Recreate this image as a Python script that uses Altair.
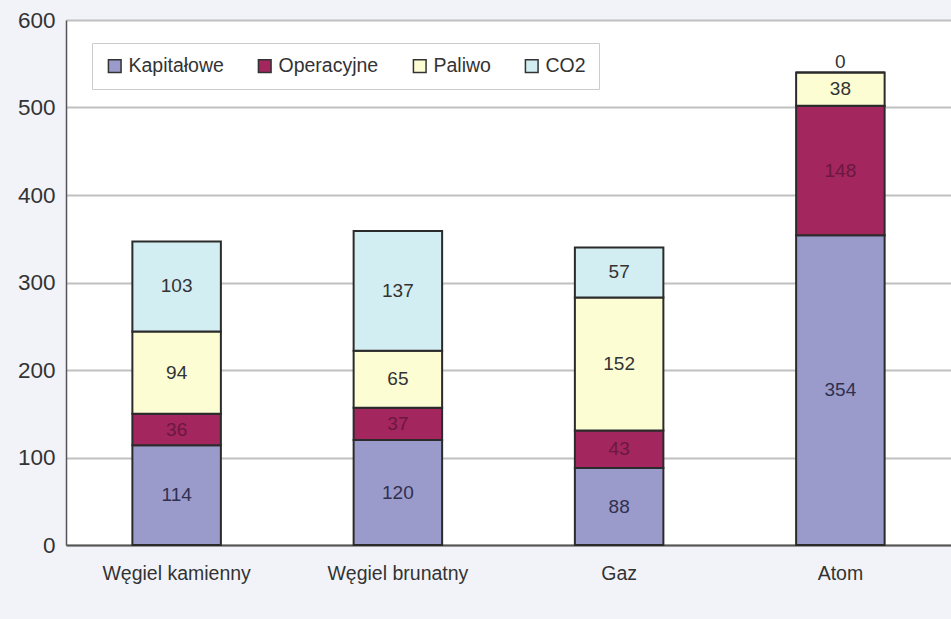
import altair as alt
import pandas as pd

# Cost components per technology (stacked from the bottom up)
categories = ["Węgiel kamienny", "Węgiel brunatny", "Gaz", "Atom"]
series = ["Kapitałowe", "Operacyjne", "Paliwo", "CO2"]
kapitalowe = [114, 120, 88, 354]
operacyjne = [36, 37, 43, 148]
paliwo = [94, 65, 152, 38]
co2 = [103, 137, 57, 0]
y_ticks = [0, 100, 200, 300, 400, 500, 600]

fill_colors = ["#9b9bcb", "#a3265e", "#fdfdd4", "#d3eef2"]
label_colors = ["#2f3050", "#6b1840", "#333333", "#333333"]
FONT = "Liberation Sans"

rows = []
for rank, (name, vals) in enumerate(zip(series, [kapitalowe, operacyjne, paliwo, co2])):
    for cat, v in zip(categories, vals):
        rows.append({"kategoria": cat, "skladnik": name, "rank": rank, "wartosc": v})
df = pd.DataFrame(rows)

base = (
    alt.Chart(df)
    .transform_stack(
        stack="wartosc",
        groupby=["kategoria"],
        sort=[alt.SortField("rank", order="ascending")],
        as_=["y0", "y1"],
    )
    .transform_calculate(mid="(datum.y0 + datum.y1) / 2")
)

x_enc = alt.X(
    "kategoria:N",
    sort=categories,
    scale=alt.Scale(paddingInner=0.6, paddingOuter=0.3),
    axis=alt.Axis(
        title=None,
        labelAngle=0,
        labelFont=FONT,
        labelFontSize=19.5,
        labelColor="#333333",
        labelPadding=19,
        ticks=False,
        domainColor="#555555",
        domainWidth=2,
        grid=False,
    ),
)

y_scale = alt.Scale(domain=[0, 600])

bars = base.mark_bar(stroke="#2b2b2b", strokeWidth=2).encode(
    x=x_enc,
    y=alt.Y(
        "y0:Q",
        scale=y_scale,
        axis=alt.Axis(
            values=y_ticks,
            title=None,
            labelFont=FONT,
            labelFontSize=22.5,
            labelColor="#333333",
            labelPadding=11,
            ticks=False,
            domainColor="#555555",
            domainWidth=1.5,
            gridColor="#c0c0c0",
            gridWidth=1.8,
        ),
    ),
    y2="y1:Q",
    color=alt.Color(
        "skladnik:N",
        scale=alt.Scale(domain=series, range=fill_colors),
        legend=alt.Legend(
            title=None,
            orient="none",
            legendX=26,
            legendY=23,
            direction="horizontal",
            fillColor="white",
            strokeColor="#cccccc",
            padding=13,
            symbolType="square",
            symbolSize=160,
            symbolStrokeColor="#333333",
            symbolStrokeWidth=1.5,
            labelFont=FONT,
            labelFontSize=19.5,
            labelColor="#333333",
            labelOffset=4,
            columnPadding=31,
        ),
    ),
)

label_color = alt.Color(
    "skladnik:N", scale=alt.Scale(domain=series, range=label_colors), legend=None
)

labels = (
    base.transform_filter("datum.wartosc > 0")
    .mark_text(font=FONT, fontSize=19, baseline="middle", align="center")
    .encode(x=alt.X("kategoria:N", sort=categories), y=alt.Y("mid:Q", scale=y_scale),
            text="wartosc:Q", color=label_color)
)

zero_labels = (
    base.transform_filter("datum.wartosc == 0")
    .mark_text(font=FONT, fontSize=19, baseline="bottom", align="center", dy=-1)
    .encode(x=alt.X("kategoria:N", sort=categories), y=alt.Y("y1:Q", scale=y_scale),
            text="wartosc:Q", color=label_color)
)

chart = (
    alt.layer(bars, labels, zero_labels)
    .resolve_scale(color="independent")
    .properties(
        width=885,
        height=525,
        autosize=alt.AutoSizeParams(type="none"),
        padding={"left": 66, "top": 20, "right": 0, "bottom": 74},
        background="#f2f3f9",
    )
    .configure_view(stroke=None, fill="white")
)

chart.save("out.html", embed_options={"renderer": "svg", "actions": False})
